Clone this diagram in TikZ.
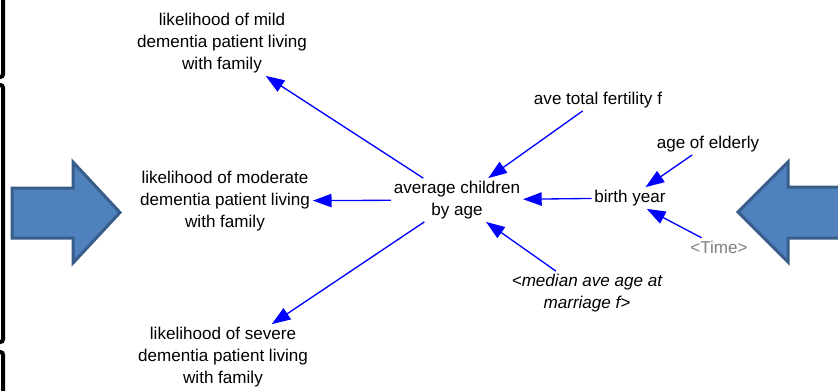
\documentclass[tikz,border=0pt]{standalone}
\usepackage{fontspec}
\setmainfont{Liberation Sans}
\usetikzlibrary{arrows.meta}
\definecolor{arrowfill}{RGB}{79,129,189}
\definecolor{arrowedge}{RGB}{56,93,138}
\definecolor{shadowgray}{RGB}{128,128,128}
\tikzstyle{var} = [align=center, inner sep=2pt,
    font=\fontsize{12.8}{16.5}\selectfont]
\tikzstyle{link} = [->, draw=blue, line width=1pt]
\tikzstyle{bigarrow} = [fill=arrowfill, draw=arrowedge, line width=2.25pt, line join=miter]
\tikzstyle{frame} = [draw=black, line width=3pt, rounded corners=2pt]

\begin{document}
\begin{tikzpicture}[x=0.75pt, y=-0.75pt, >={Triangle[length=14pt,width=10pt]}]
    \clip (0,0) rectangle (838,390);
    % frames at the left edge
    \draw [frame] (-40,-40) rectangle (3,77);
    \draw [frame] (-40,85) rectangle (3,342);
    \draw [frame] (-40,352) rectangle (3,430);
    % big arrows
    \draw [bigarrow] (12,188) -- (73,188) -- (73,162) -- (120,212.5) -- (73,263) -- (73,238) -- (12,238) -- cycle;
    \draw [bigarrow] (860,187) -- (788,187) -- (788,162) -- (738,212) -- (788,262) -- (788,238) -- (860,238) -- cycle;
    % variables
    \node [var] at (222,43) (mild) {likelihood of mild\\dementia patient living\\with family};
    \node [var] at (225,201) (moderate) {likelihood of moderate\\dementia patient living\\with family};
    \node [var] at (223,357) (severe) {likelihood of severe\\dementia patient living\\with family};
    \node [var] at (457,200) (avgchild) {average children\\by age};
    \node [var] at (598,100) (fertility) {ave total fertility f};
    \node [var] at (708,144) (elderly) {age of elderly};
    \node [var] at (630,198) (birthyear) {birth year};
    \node [var, text=shadowgray] at (719,247) (time) {<Time>};
    \node [var, font=\fontsize{12.8}{16.5}\selectfont\itshape] at (587,293) (marriage) {<median ave age at\\marriage f>};
    % links
    \draw [link] (avgchild) -- (mild.-37);
    \draw [link] (avgchild) -- (moderate);
    \draw [link] (avgchild) -- (severe.34);
    \draw [link] (fertility) -- (avgchild.35);
    \draw [link] (birthyear) -- (avgchild);
    \draw [link] (marriage) -- (avgchild.-37);
    \draw [link] (elderly) -- (birthyear.35);
    \draw [link] (time) -- (birthyear.-33);
\end{tikzpicture}
\end{document}
